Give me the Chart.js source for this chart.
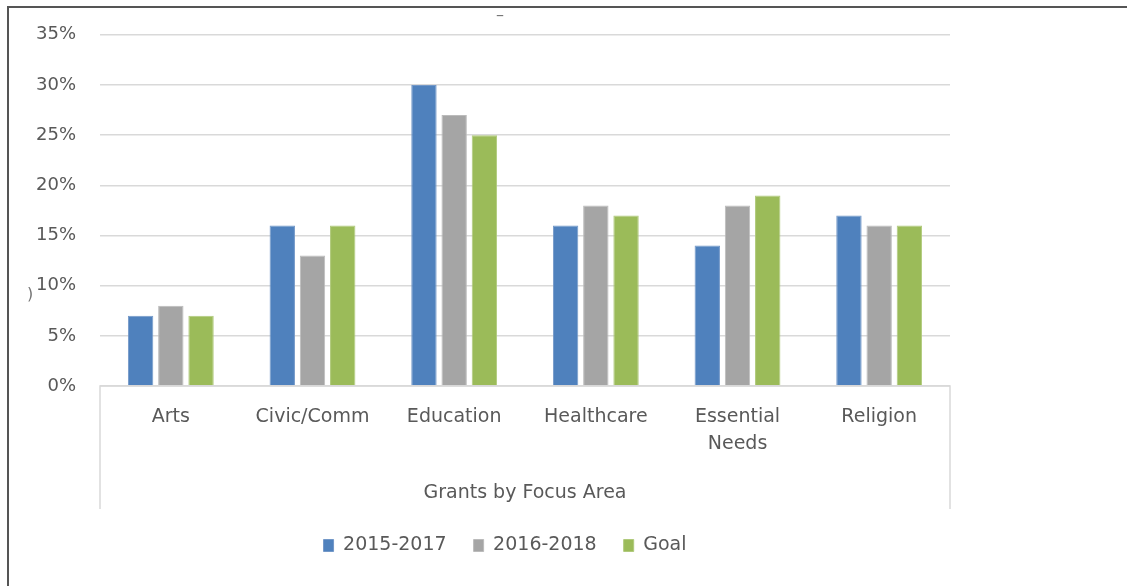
<!DOCTYPE html>
<html lang="en">
<head>
  <meta charset="UTF-8">
  <title>Grants by Focus Area</title>
  <style>
    html, body {
      margin: 0;
      padding: 0;
      background: #fff;
    }
    .wrap {
      position: relative;
      width: 1127px;
      height: 586px;
    }
    .frame {
      position: absolute;
      left: 7px;
      top: 6px;
      right: 0;
      bottom: 0;
      border-top: 2px solid #555;
      border-left: 2px solid #555;
      pointer-events: none;
    }
  </style>
</head>
<body>
  <div class="wrap">
    <canvas id="grantsChart" width="1127" height="586"></canvas>
    <div class="frame"></div>
  </div>

  <script src="https://cdn.jsdelivr.net/npm/chart.js"></script>
  <script>
    const categories = ['Arts', 'Civic/Comm', 'Education', 'Healthcare', ['Essential', 'Needs'], 'Religion'];
    const seriesNames = ['2015-2017', '2016-2018', 'Goal'];
    const values2015 = [7, 16, 30, 16, 14, 17];
    const values2016 = [8, 13, 27, 18, 18, 16];
    const valuesGoal = [7, 16, 25, 17, 19, 16];
    const yTicks = [0, 5, 10, 15, 20, 25, 30, 35];
    const axisTitle = 'Grants by Focus Area';

    const fillColors = ['#4F81BD', '#A5A5A5', '#9BBB59'];
    const edgeColors = ['#7398C8', '#BBBBBB', '#B0CA7C'];
    const textColor = '#595959';
    const fontFamily = '"DejaVu Sans", sans-serif';

    // box under the category axis + stray marks from the original
    const axisBox = {
      id: 'axisBox',
      beforeDraw(chart) {
        // legend sits centred between x=60 and the plot's right edge
        chart.legend.left = 60;
      },
      afterDraw(chart) {
        const { ctx, chartArea } = chart;
        const bottom = chartArea.bottom + 123;
        ctx.save();
        ctx.strokeStyle = '#D9D9D9';
        ctx.lineWidth = 1.5;
        ctx.beginPath();
        ctx.moveTo(chartArea.left, bottom);
        ctx.lineTo(chartArea.left, chartArea.bottom);
        ctx.lineTo(chartArea.right, chartArea.bottom);
        ctx.lineTo(chartArea.right, bottom);
        ctx.stroke();

        ctx.fillStyle = '#777';
        ctx.font = '16px ' + fontFamily;
        ctx.textAlign = 'center';
        ctx.textBaseline = 'middle';
        ctx.fillText(')', 30, 295);
        ctx.fillText('–', 500, 16);
        ctx.restore();
      }
    };

    const ctx = document.getElementById('grantsChart').getContext('2d');
    new Chart(ctx, {
      type: 'bar',
      data: {
        labels: categories,
        datasets: [values2015, values2016, valuesGoal].map((vals, i) => ({
          label: seriesNames[i],
          data: vals,
          backgroundColor: fillColors[i],
          borderColor: edgeColors[i],
          borderWidth: 1,
          categoryPercentage: 0.64,
          barPercentage: 0.84
        }))
      },
      options: {
        responsive: false,
        animation: false,
        layout: {
          padding: { left: 35, right: 177, top: 25, bottom: 21 }
        },
        scales: {
          y: {
            min: 0,
            max: 35,
            afterFit(scale) { scale.width = 65; },
            afterBuildTicks(scale) {
              scale.ticks = yTicks.map(v => ({ value: v }));
            },
            ticks: {
              padding: 24,
              color: textColor,
              font: { family: fontFamily, size: 18 },
              callback: v => v + '%'
            },
            grid: {
              color: '#D9D9D9',
              lineWidth: 1.5,
              drawTicks: false
            },
            border: { display: false }
          },
          x: {
            grid: { display: false, drawTicks: false },
            border: { display: false },
            ticks: {
              padding: 17,
              color: textColor,
              font: { family: fontFamily, size: 19, lineHeight: 1.45 },
              maxRotation: 0,
              autoSkip: false
            },
            title: {
              display: true,
              text: axisTitle,
              color: textColor,
              font: { family: fontFamily, size: 19 },
              padding: { top: 6, bottom: 5 }
            }
          }
        },
        plugins: {
          legend: {
            position: 'bottom',
            labels: {
              color: textColor,
              font: { family: fontFamily, size: 19 },
              boxWidth: 10,
              boxHeight: 12,
              padding: 27
            }
          },
          tooltip: { enabled: false }
        }
      },
      plugins: [axisBox]
    });
  </script>
</body>
</html>
